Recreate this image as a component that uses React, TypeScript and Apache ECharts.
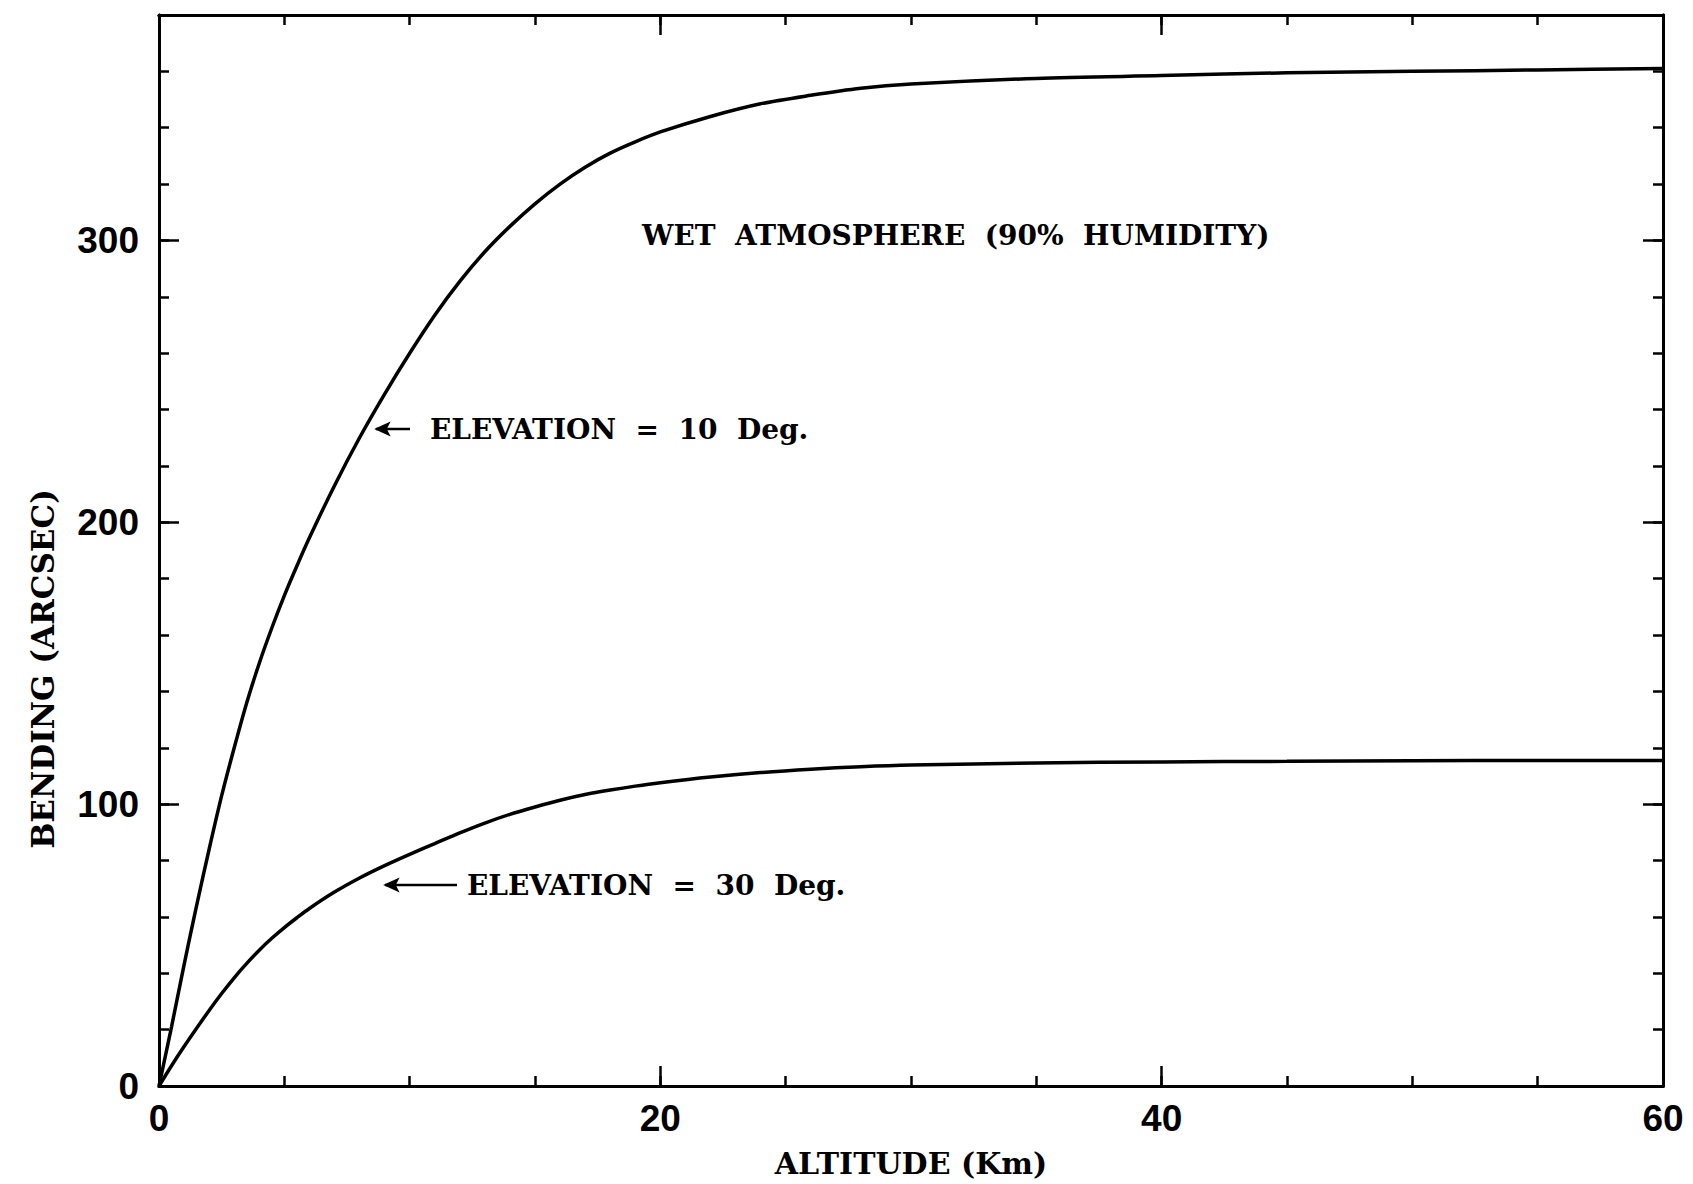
import React, { useEffect, useRef } from "react";
import * as echarts from "echarts";

// Altitude (km) sample positions
const altitudeKm = [0, 0.5, 1, 1.5, 2, 2.5, 3, 3.5, 4, 4.5, 5, 5.5, 6, 7, 8, 9, 10, 11, 12, 13, 14, 15, 16, 17, 18, 19, 20, 22, 24, 26, 28, 30, 35, 40, 45, 50, 55, 60];
// Bending (arcsec), elevation = 10 deg
const bendingElev10 = [0, 21, 43, 64, 84, 103, 120, 136, 150, 162.5, 174, 184.5, 194.5, 213, 230, 245.5, 260, 273.5, 285.5, 296, 305, 313, 320, 326, 331, 335, 338.5, 344, 348.5, 351.5, 354, 355.5, 357.5, 358.5, 359.5, 360, 360.5, 361];
// Bending (arcsec), elevation = 30 deg
const bendingElev30 = [0, 7.2, 14, 20.5, 26.8, 32.8, 38.4, 43.5, 48.2, 52.4, 56.2, 59.7, 63, 68.8, 73.8, 78.2, 82.2, 86, 89.8, 93.3, 96.4, 99, 101.4, 103.4, 105, 106.4, 107.6, 109.6, 111.2, 112.4, 113.3, 113.9, 114.6, 115, 115.2, 115.4, 115.5, 115.5];

const xMajorTicks = [0, 20, 40, 60];
const yMajorTicks = [0, 100, 200, 300];

const xName = "ALTITUDE (Km)";
const yName = "BENDING (ARCSEC)";
const titleText = "WET  ATMOSPHERE  (90%  HUMIDITY)";
const label10 = "ELEVATION  =  10  Deg.";
const label30 = "ELEVATION  =  30  Deg.";

const SERIF = "'DejaVu Serif', 'Liberation Serif', serif";
const SANS = "'Liberation Sans', 'DejaVu Sans', sans-serif";

function App() {
  const ref = useRef<HTMLDivElement>(null);
  useEffect(() => {
    if (!ref.current) return;
    const chart = echarts.init(ref.current, undefined, { renderer: "svg" });
    const lineStyle = { color: "#000", width: 3 };
    const tickStyle = { color: "#000", width: 2.5 };
    const mkX = (position: string, major: boolean, withLabels: boolean) => ({
      type: "value",
      position,
      min: 0,
      max: 60,
      interval: major ? 20 : 5,
      axisLine: { show: true, onZero: false, lineStyle },
      axisTick: { show: true, inside: true, length: major ? 20 : 10, lineStyle: tickStyle },
      axisLabel: {
        show: withLabels,
        margin: 14,
        fontSize: 37,
        fontWeight: "bold",
        color: "#000",
        fontFamily: SANS,
        formatter: (v: number) => (xMajorTicks.includes(v) ? String(v) : ""),
      },
      splitLine: { show: false },
      ...(withLabels
        ? {
            name: xName,
            nameLocation: "middle",
            nameGap: 62,
            nameTextStyle: { fontSize: 30, fontWeight: "bold", fontFamily: SERIF, color: "#000" },
          }
        : {}),
    });
    const mkY = (position: string, major: boolean, withLabels: boolean) => ({
      type: "value",
      position,
      min: 0,
      max: 380,
      interval: major ? 100 : 20,
      axisLine: { show: true, onZero: false, lineStyle },
      axisTick: { show: true, inside: true, length: major ? 20 : 10, lineStyle: tickStyle },
      axisLabel: {
        show: withLabels,
        margin: 20,
        fontSize: 37,
        fontWeight: "bold",
        color: "#000",
        fontFamily: SANS,
        showMaxLabel: false,
        formatter: (v: number) => (yMajorTicks.includes(v) ? String(v) : ""),
      },
      splitLine: { show: false },
    });

    const data10 = altitudeKm.map((x, i) => [x, bendingElev10[i]]);
    const data30 = altitudeKm.map((x, i) => [x, bendingElev30[i]]);

    const arrow = (x1: number, x2: number, y: number) => [
      { type: "line", shape: { x1, y1: y, x2, y2: y }, style: { stroke: "#000", lineWidth: 2.5 } },
      {
        type: "polygon",
        shape: { points: [[x2, y], [x2 + 13, y - 6], [x2 + 10, y], [x2 + 13, y + 6]] },
        style: { fill: "#000", stroke: "#000", lineWidth: 1.5 },
      },
    ];

    chart.setOption({
      animation: false,
      backgroundColor: "#fff",
      grid: { left: 159, right: 30, top: 15, bottom: 98, containLabel: false },
      xAxis: [mkX("bottom", true, true), mkX("bottom", false, false), mkX("top", true, false), mkX("top", false, false)],
      yAxis: [mkY("left", true, true), mkY("left", false, false), mkY("right", true, false), mkY("right", false, false)],
      series: [
        {
          name: "Elevation 10 deg",
          type: "line",
          xAxisIndex: 0,
          yAxisIndex: 0,
          data: data10,
          showSymbol: false,
          smooth: 0.3,
          lineStyle: { color: "#000", width: 3.5 },
        },
        {
          name: "Elevation 30 deg",
          type: "line",
          xAxisIndex: 0,
          yAxisIndex: 0,
          data: data30,
          showSymbol: false,
          smooth: 0.3,
          lineStyle: { color: "#000", width: 3.5 },
        },
      ],
      graphic: [
        {
          type: "text",
          x: 43,
          y: 669,
          rotation: Math.PI / 2,
          style: {
            text: yName,
            fontSize: 31,
            fontWeight: "bold",
            fontFamily: SERIF,
            fill: "#000",
            align: "center",
            verticalAlign: "middle",
          },
        },
        {
          type: "text",
          x: 642,
          y: 235,
          style: { text: titleText, fontSize: 28, fontWeight: "bold", fontFamily: SERIF, fill: "#000", align: "left", verticalAlign: "middle" },
        },
        ...arrow(410, 376, 429),
        {
          type: "text",
          x: 430,
          y: 429,
          style: { text: label10, fontSize: 28, fontWeight: "bold", fontFamily: SERIF, fill: "#000", align: "left", verticalAlign: "middle" },
        },
        ...arrow(457, 385, 885),
        {
          type: "text",
          x: 467,
          y: 885,
          style: { text: label30, fontSize: 28, fontWeight: "bold", fontFamily: SERIF, fill: "#000", align: "left", verticalAlign: "middle" },
        },
      ],
    });
    return () => chart.dispose();
  }, []);
  return (
    <div
      ref={ref}
      style={{ position: "fixed", left: 0, top: 0, width: 1693, height: 1184, background: "#fff" }}
    />
  );
}

export default App;
